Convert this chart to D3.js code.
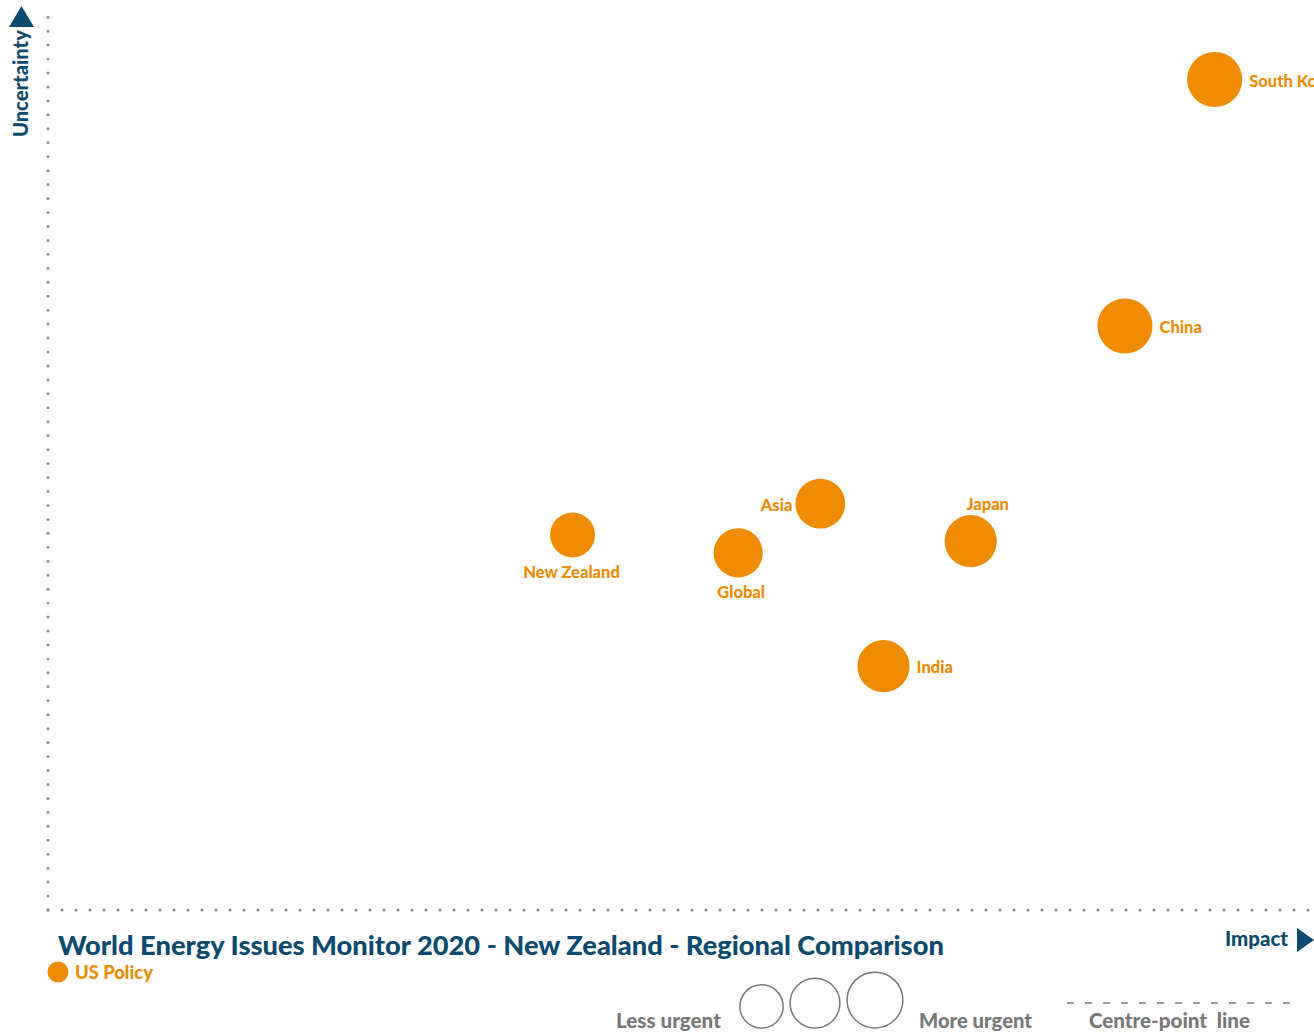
<!DOCTYPE html>
<html>
<head>
<meta charset="utf-8">
<script src="https://cdn.jsdelivr.net/npm/d3@7"></script>
<style>
  html, body { margin: 0; padding: 0; background: #fff; }
  svg { display: block; font-family: Lato, "Open Sans", sans-serif; }
</style>
</head>
<body>
<svg id="chart" width="1314" height="1033"></svg>
<script>
// ---- data ----
const regions = ["South Korea", "China", "Asia", "Japan", "New Zealand", "Global", "India"];
const impact = [9.23, 8.52, 6.11, 7.30, 4.15, 5.46, 6.61];
const uncertainty = [9.30, 6.54, 4.55, 4.13, 4.20, 4.00, 2.73];
const urgency = [9.2, 9.2, 8.3, 8.7, 7.5, 8.2, 8.7];
const labelSide = ["right", "right", "left", "top", "bottom", "bottom", "right"];
const legendSizes = [7.2, 8.3, 9.3];
const seriesName = "US Policy";
const titleText = "World Energy Issues Monitor 2020 - New Zealand - Regional Comparison";

const orange = "#EE8B00";
const navy = "#0B4A6F";
const grey = "#777777";

const svg = d3.select("#chart");
const x = d3.scaleLinear().domain([0, 10]).range([48, 1312]);
const y = d3.scaleLinear().domain([0, 10]).range([910, 17]);
const r = d3.scaleLinear().domain([0, 10]).range([0, 30]);

function fit(sel, target) {
  const fs = +sel.attr("font-size");
  const w = sel.node().getComputedTextLength();
  if (w > 0) sel.attr("font-size", fs * target / w);
  return sel;
}

// dotted axes
svg.append("line").attr("x1", 48).attr("x2", 48).attr("y1", 910).attr("y2", 17)
  .attr("stroke", "#888").attr("stroke-width", 3).attr("stroke-linecap", "round")
  .attr("stroke-dasharray", "0 13.95");
svg.append("line").attr("x1", 48).attr("x2", 1314).attr("y1", 910).attr("y2", 910)
  .attr("stroke", "#888").attr("stroke-width", 3).attr("stroke-linecap", "round")
  .attr("stroke-dasharray", "0 14");

// axis arrows
svg.append("path").attr("d", "M9,27 L21.5,6 L34,27 Z").attr("fill", navy);
svg.append("path").attr("d", "M1297,928 L1314,940 L1297,952 Z").attr("fill", navy);

fit(svg.append("text").attr("transform", "translate(28,137) rotate(-90)")
  .attr("font-size", 18).attr("font-weight", 900).attr("fill", navy)
  .text("Uncertainty"), 107);
fit(svg.append("text").attr("x", 1288).attr("y", 946).attr("text-anchor", "end")
  .attr("font-size", 19).attr("font-weight", 900).attr("fill", navy)
  .text("Impact"), 63);

// points
const data = regions.map((name, i) => ({
  name, ix: impact[i], uy: uncertainty[i], u: urgency[i], side: labelSide[i]
}));

const g = svg.append("g");
g.selectAll("circle").data(data).join("circle")
  .attr("cx", d => x(d.ix)).attr("cy", d => y(d.uy)).attr("r", d => r(d.u))
  .attr("fill", orange);

g.selectAll("text").data(data).join("text")
  .attr("font-size", 16.5).attr("font-weight", 900).attr("fill", orange)
  .attr("x", d => {
    const cx = x(d.ix), rr = r(d.u);
    if (d.side === "right") return cx + rr + 7;
    if (d.side === "left") return cx - rr - 3;
    if (d.side === "top") return cx + 17;
    return cx + (d.name === "Global" ? 3 : -1);
  })
  .attr("y", d => {
    const cy = y(d.uy), rr = r(d.u);
    if (d.side === "top") return cy - rr - 5;
    if (d.side === "bottom") return cy + rr + 21;
    return cy + 7;
  })
  .attr("text-anchor", d => d.side === "right" ? "start" : d.side === "left" ? "end" : "middle")
  .text(d => d.name);

// title
fit(svg.append("text").attr("x", 58).attr("y", 955)
  .attr("font-size", 26).attr("font-weight", 900).attr("fill", navy)
  .text(titleText), 886);

// series legend
svg.append("circle").attr("cx", 58).attr("cy", 972).attr("r", 10.5).attr("fill", orange);
fit(svg.append("text").attr("x", 75).attr("y", 979)
  .attr("font-size", 18).attr("font-weight", 900).attr("fill", orange).text(seriesName), 78);

// size legend
fit(svg.append("text").attr("x", 616).attr("y", 1028)
  .attr("font-size", 18).attr("font-weight", 900).attr("fill", grey).text("Less urgent"), 105);
const legCx = [761.5, 815, 875];
svg.selectAll("circle.leg").data(legendSizes).join("circle").attr("class", "leg")
  .attr("cx", (d, i) => legCx[i]).attr("cy", d => 1028 - r(d)).attr("r", d => r(d))
  .attr("fill", "none").attr("stroke", grey).attr("stroke-width", 1.5);
fit(svg.append("text").attr("x", 919).attr("y", 1028)
  .attr("font-size", 18).attr("font-weight", 900).attr("fill", grey).text("More urgent"), 113);

svg.append("line").attr("x1", 1067).attr("x2", 1290).attr("y1", 1003).attr("y2", 1003)
  .attr("stroke", grey).attr("stroke-width", 1.5).attr("stroke-dasharray", "7 11");
fit(svg.append("text").attr("x", 1089).attr("y", 1028)
  .attr("font-size", 18).attr("font-weight", 900).attr("fill", grey)
  .style("white-space", "pre").text("Centre-point  line"), 161);
</script>
</body>
</html>
